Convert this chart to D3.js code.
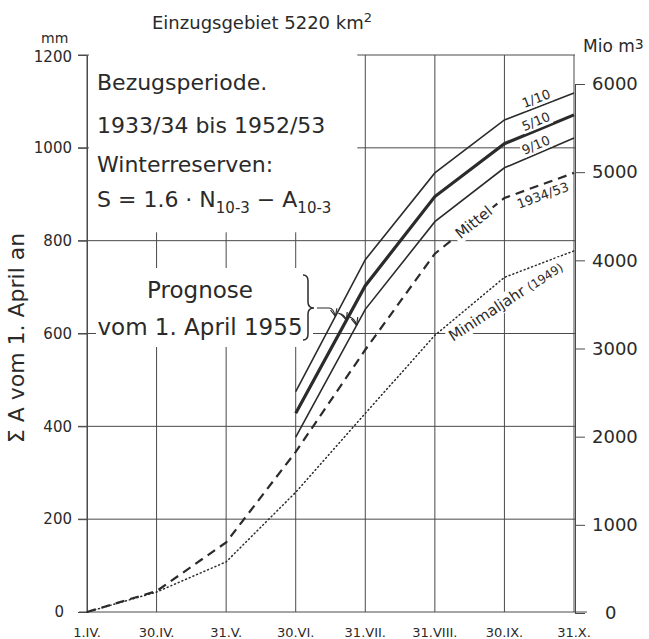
<!DOCTYPE html>
<html>
<head>
<meta charset="utf-8">
<script src="https://cdn.jsdelivr.net/npm/d3@7"></script>
<style>
  body { margin: 0; background: #fff; }
  text { font-family: "DejaVu Sans", sans-serif; fill: #2a2a2a; }
</style>
</head>
<body>
<svg id="chart" width="649" height="639"></svg>
<script>
//
// Data
//

// x axis: end of each month, 1 April to 31 October
var dates = ['1.IV.', '30.IV.', '31.V.', '30.VI.', '31.VII.', '31.VIII.', '30.IX.', '31.X.']
// left axis (mm) and right axis (Mio m3) ticks
var mmTicks = [0, 200, 400, 600, 800, 1000, 1200]
var mioTicks = [0, 1000, 2000, 3000, 4000, 5000, 6000]
// mean 1934/53 and minimum year 1949, cumulative runoff in mm
var mittel = [0, 45, 150, 345, 565, 772, 892, 946]
var minimal = [0, 43, 108, 258, 428, 596, 721, 778]
// forecast of 1 April 1955, starting at 30.VI.
var progDates = ['30.VI.', '31.VII.', '31.VIII.', '30.IX.', '31.X.']
var prog10 = [475, 759, 946, 1060, 1118]
var prog50 = [428, 703, 895, 1009, 1071]
var prog90 = [377, 652, 841, 957, 1021]

//
// Scales
//

var svg = d3.select('#chart')
var x = d3.scalePoint().domain(dates).range([87, 574])
var y = d3.scaleLinear().domain([0, 1200]).range([612, 55])
var y2 = d3.scaleLinear().domain([0, 6000]).range([613, 84])
var ink = '#2b2b2b'
var gridInk = '#4a4a4a'

//
// Grid
//

var grid = svg.append('g').attr('stroke', gridInk).attr('stroke-width', 1)
grid.selectAll('line.h').data(mmTicks).enter().append('line')
  .attr('x1', function (d) { return d === 0 ? 79 : 78 })
  .attr('x2', function (d) { return d === 0 ? 587 : 575 })
  .attr('y1', function (d) { return y(d) })
  .attr('y2', function (d) { return y(d) })
grid.selectAll('line.v').data(dates).enter().append('line')
  .attr('x1', function (d) { return x(d) })
  .attr('x2', function (d) { return x(d) })
  .attr('y1', y(0))
  .attr('y2', y(1200))

// blank areas behind the text blocks
var gridTop = y(818)
svg.append('rect').attr('x', 89).attr('y', 40)
  .attr('width', x('31.VII.') - 8 - 89).attr('height', gridTop - 40).attr('fill', '#fff')
svg.append('rect').attr('x', 96).attr('y', 268)
  .attr('width', 217).attr('height', 79).attr('fill', '#fff')

//
// Axes
//

var fmt = d3.format('d')
var left = svg.append('g').attr('transform', 'translate(87,0)')
  .call(d3.axisLeft(y).tickValues(mmTicks).tickFormat(fmt).tickSize(9).tickSizeOuter(0).tickPadding(6))
left.selectAll('text').attr('font-size', 15).attr('font-family', null)
  .attr('x', function (d) { return d === 0 ? -23 : -15 })
  .attr('dy', function (d) { return d === 1200 ? '0.45em' : '0.32em' })
var right = svg.append('g').attr('transform', 'translate(575,0)')
  .call(d3.axisRight(y2).tickValues(mioTicks).tickFormat(fmt).tickSize(10).tickSizeOuter(0).tickPadding(7))
right.selectAll('text').attr('font-size', 18).attr('font-family', null)
  .attr('x', function (d) { return d === 0 ? 30 : 17 })
svg.selectAll('.domain, .tick line').attr('stroke', gridInk)

svg.append('g').selectAll('text').data(dates).enter().append('text')
  .attr('x', function (d) { return x(d) })
  .attr('y', 637)
  .attr('text-anchor', 'middle')
  .attr('font-size', 13)
  .text(function (d) { return d })

//
// Curves
//

function series(dts, vals) {
  return dts.map(function (d, i) { return { date: d, v: vals[i] } })
}
var line = d3.line()
  .x(function (d) { return x(d.date) })
  .y(function (d) { return y(d.v) })

var curves = svg.append('g').attr('fill', 'none').attr('stroke', ink)
curves.append('path').attr('d', line(series(dates, minimal)))
  .attr('stroke-width', 1.5).attr('stroke-dasharray', '1,3').attr('stroke-linecap', 'round')
curves.append('path').attr('d', line(series(dates, mittel)))
  .attr('stroke-width', 2.2).attr('stroke-dasharray', '9,6')
curves.append('path').attr('d', line(series(progDates, prog10))).attr('stroke-width', 1.6)
curves.append('path').attr('d', line(series(progDates, prog50))).attr('stroke-width', 3.2)
curves.append('path').attr('d', line(series(progDates, prog90))).attr('stroke-width', 1.6)

//
// Curve labels
//

function along(dts, vals, i, t) {
  var x0 = x(dts[i]), y0 = y(vals[i]), x1 = x(dts[i + 1]), y1 = y(vals[i + 1])
  return { x: x0 + (x1 - x0) * t, y: y0 + (y1 - y0) * t,
    a: Math.atan2(y1 - y0, x1 - x0) * 180 / Math.PI }
}

function label(p, angle, dx, dy, parts, bg) {
  var g = svg.append('g').attr('transform', 'translate(' + p.x + ',' + p.y + ') rotate(' + angle + ')')
  var t = g.append('text').attr('x', dx).attr('y', dy).attr('text-anchor', 'middle')
  parts.forEach(function (s) {
    t.append('tspan').attr('font-size', s[1]).text(s[0])
  })
  if (bg) {
    var b = t.node().getBBox()
    g.insert('rect', 'text').attr('x', b.x - bg).attr('y', b.y)
      .attr('width', b.width + 2 * bg).attr('height', b.height).attr('fill', '#fff')
  }
}

var p
p = along(progDates, prog10, 3, 0.5); label(p, p.a, 0, -4, [['1/10', 13]], 1)
p = along(progDates, prog50, 3, 0.5); label(p, p.a, 0, -4, [['5/10', 13]], 1)
p = along(progDates, prog90, 3, 0.5); label(p, p.a, 0, -4, [['9/10', 13]], 1)
p = along(dates, mittel, 5, 0.56); label(p, p.a, 0, 5, [['Mittel', 15]], 3)
p = along(dates, mittel, 6, 0.5); label(p, p.a, 0, 15, [['1934/53', 13]], 0)
p = along(dates, minimal, 6, 0); label(p, -33, -12, 26, [['Minimaljahr ', 15], ['(1949)', 12]], 2)

//
// Forecast note with brace and arrows
//

svg.append('text').attr('x', 200).attr('y', 298).attr('text-anchor', 'middle')
  .attr('font-size', 23).text('Prognose')
svg.append('text').attr('x', 200).attr('y', 335).attr('text-anchor', 'middle')
  .attr('font-size', 23).text('vom 1. April 1955')

svg.append('path').attr('fill', 'none').attr('stroke', ink).attr('stroke-width', 1.5)
  .attr('d', 'M303,275 Q308,275 308,281 L308,302 Q308,308 314,308 Q308,308 308,314 L308,334 Q308,340 303,340')

svg.append('defs').append('marker').attr('id', 'arr')
  .attr('viewBox', '0 0 10 10').attr('refX', 9).attr('refY', 5)
  .attr('markerWidth', 7).attr('markerHeight', 7).attr('orient', 'auto')
  .append('path').attr('d', 'M0,1 L9,5 L0,9').attr('fill', 'none').attr('stroke', ink).attr('stroke-width', 1.4)

var tips = [along(progDates, prog10, 0, 0.57), along(progDates, prog50, 0, 0.73), along(progDates, prog90, 0, 0.875)]
var arrows = svg.append('g').attr('fill', 'none').attr('stroke', ink).attr('stroke-width', 1.2)
arrows.append('path').attr('marker-end', 'url(#arr)')
  .attr('d', 'M317,308 L329,308 Q' + (tips[0].x - 2) + ',308 ' + tips[0].x + ',' + tips[0].y)
for (var i = 1; i < 3; i++) {
  var a = tips[i - 1], b = tips[i]
  arrows.append('path').attr('marker-end', 'url(#arr)')
    .attr('d', 'M' + (a.x + 3) + ',' + (a.y - 3) + ' Q' + (b.x - 2) + ',' + (a.y - 2) + ' ' + b.x + ',' + b.y)
}

//
// Titles and notes
//

var title = svg.append('text').attr('x', 262).attr('y', 29).attr('text-anchor', 'middle').attr('font-size', 18)
title.append('tspan').text('Einzugsgebiet 5220 km')
title.append('tspan').attr('font-size', 13).attr('dy', -7).text('2')

svg.append('text').attr('x', 41).attr('y', 43).attr('font-size', 14).text('mm')
var mio = svg.append('text').attr('x', 583).attr('y', 52).attr('font-size', 17)
mio.append('tspan').text('Mio m')
mio.append('tspan').attr('font-size', 14).attr('dy', -3).text('3')

svg.append('text').attr('transform', 'translate(24,338) rotate(-90)')
  .attr('text-anchor', 'middle').attr('font-size', 22).text('Σ A vom 1. April an')

var note = svg.append('g').attr('font-size', 22)
note.append('text').attr('x', 97).attr('y', 90).text('Bezugsperiode.')
note.append('text').attr('x', 97).attr('y', 133).text('1933/34 bis 1952/53')
note.append('text').attr('x', 97).attr('y', 172).text('Winterreserven:')
var f = note.append('text').attr('x', 97).attr('y', 207)
f.append('tspan').text('S = 1.6 · N')
f.append('tspan').attr('font-size', 15).attr('dy', 6).text('10-3')
f.append('tspan').attr('dy', -6).text(' − A')
f.append('tspan').attr('font-size', 15).attr('dy', 6).text('10-3')
</script>
</body>
</html>
